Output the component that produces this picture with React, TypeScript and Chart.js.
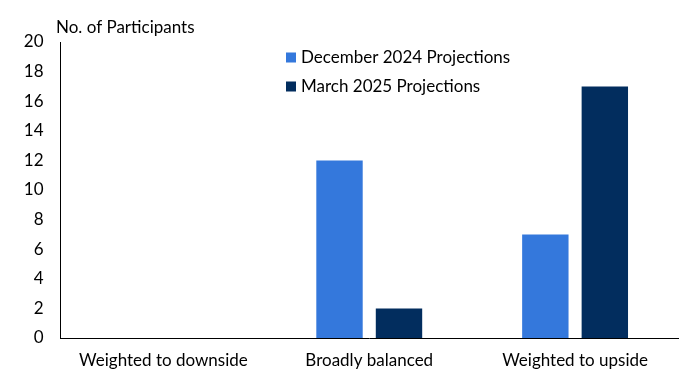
import React, { useEffect, useRef } from "react";
import { Chart, registerables } from "chart.js";

Chart.register(...registerables);

const categories = ["Weighted to downside", "Broadly balanced", "Weighted to upside"];
const dec2024 = [0, 12, 7];
const mar2025 = [0, 2, 17];
const seriesNames = ["December 2024 Projections", "March 2025 Projections"];
const seriesColors = ["#3478DC", "#022D5E"];
const yTitle = "No. of Participants";

const FONT = "Lato, 'Open Sans', sans-serif";

export default function App() {
  const ref = useRef<HTMLCanvasElement | null>(null);
  useEffect(() => {
    if (!ref.current) return;
    const overlay = {
      id: "overlay",
      afterDraw(chart: any) {
        const ctx = chart.ctx;
        ctx.save();
        ctx.fillStyle = "#000";
        ctx.font = `17px ${FONT}`;
        ctx.textBaseline = "middle";
        ctx.textAlign = "left";
        ctx.fillText(yTitle, 56, 28);
        const ys = [57.5, 86.5];
        seriesNames.forEach((n, i) => {
          ctx.fillStyle = seriesColors[i];
          ctx.fillRect(286, ys[i] - 5, 10, 10);
          ctx.fillStyle = "#000";
          ctx.fillText(n, 301, ys[i]);
        });
        ctx.restore();
      },
    };
    const chart = new Chart(ref.current, {
      type: "bar",
      data: {
        labels: categories,
        datasets: [
          { label: seriesNames[0], data: dec2024, backgroundColor: seriesColors[0], categoryPercentage: 0.578, barPercentage: 0.78 },
          { label: seriesNames[1], data: mar2025, backgroundColor: seriesColors[1], categoryPercentage: 0.578, barPercentage: 0.78 },
        ],
      },
      options: {
        animation: false,
        responsive: false,
        maintainAspectRatio: false,
        layout: { padding: { top: 42, right: 13, left: 0, bottom: 0 } },
        plugins: { legend: { display: false }, tooltip: { enabled: false } },
        scales: {
          x: {
            grid: { display: false, drawTicks: false },
            border: { display: true, color: "#000", width: 1 },
            ticks: { color: "#000", font: { family: FONT, size: 17 }, padding: 12, maxRotation: 0 },
            afterFit(s: any) { s.height = 34; },
          },
          y: {
            min: 0,
            max: 20,
            grid: { display: false, drawTicks: false },
            border: { display: true, color: "#000", width: 1 },
            ticks: { stepSize: 2, color: "#000", font: { family: FONT, size: 17 }, padding: 17 },
            afterFit(s: any) { s.width = 60.5; },
          },
        },
      },
      plugins: [overlay],
    });
    return () => chart.destroy();
  }, []);
  return (
    <div style={{ position: "fixed", left: 0, top: 0, width: 691, height: 372, background: "#fff" }}>
      <canvas ref={ref} width={691} height={372} style={{ width: 691, height: 372 }} />
    </div>
  );
}
